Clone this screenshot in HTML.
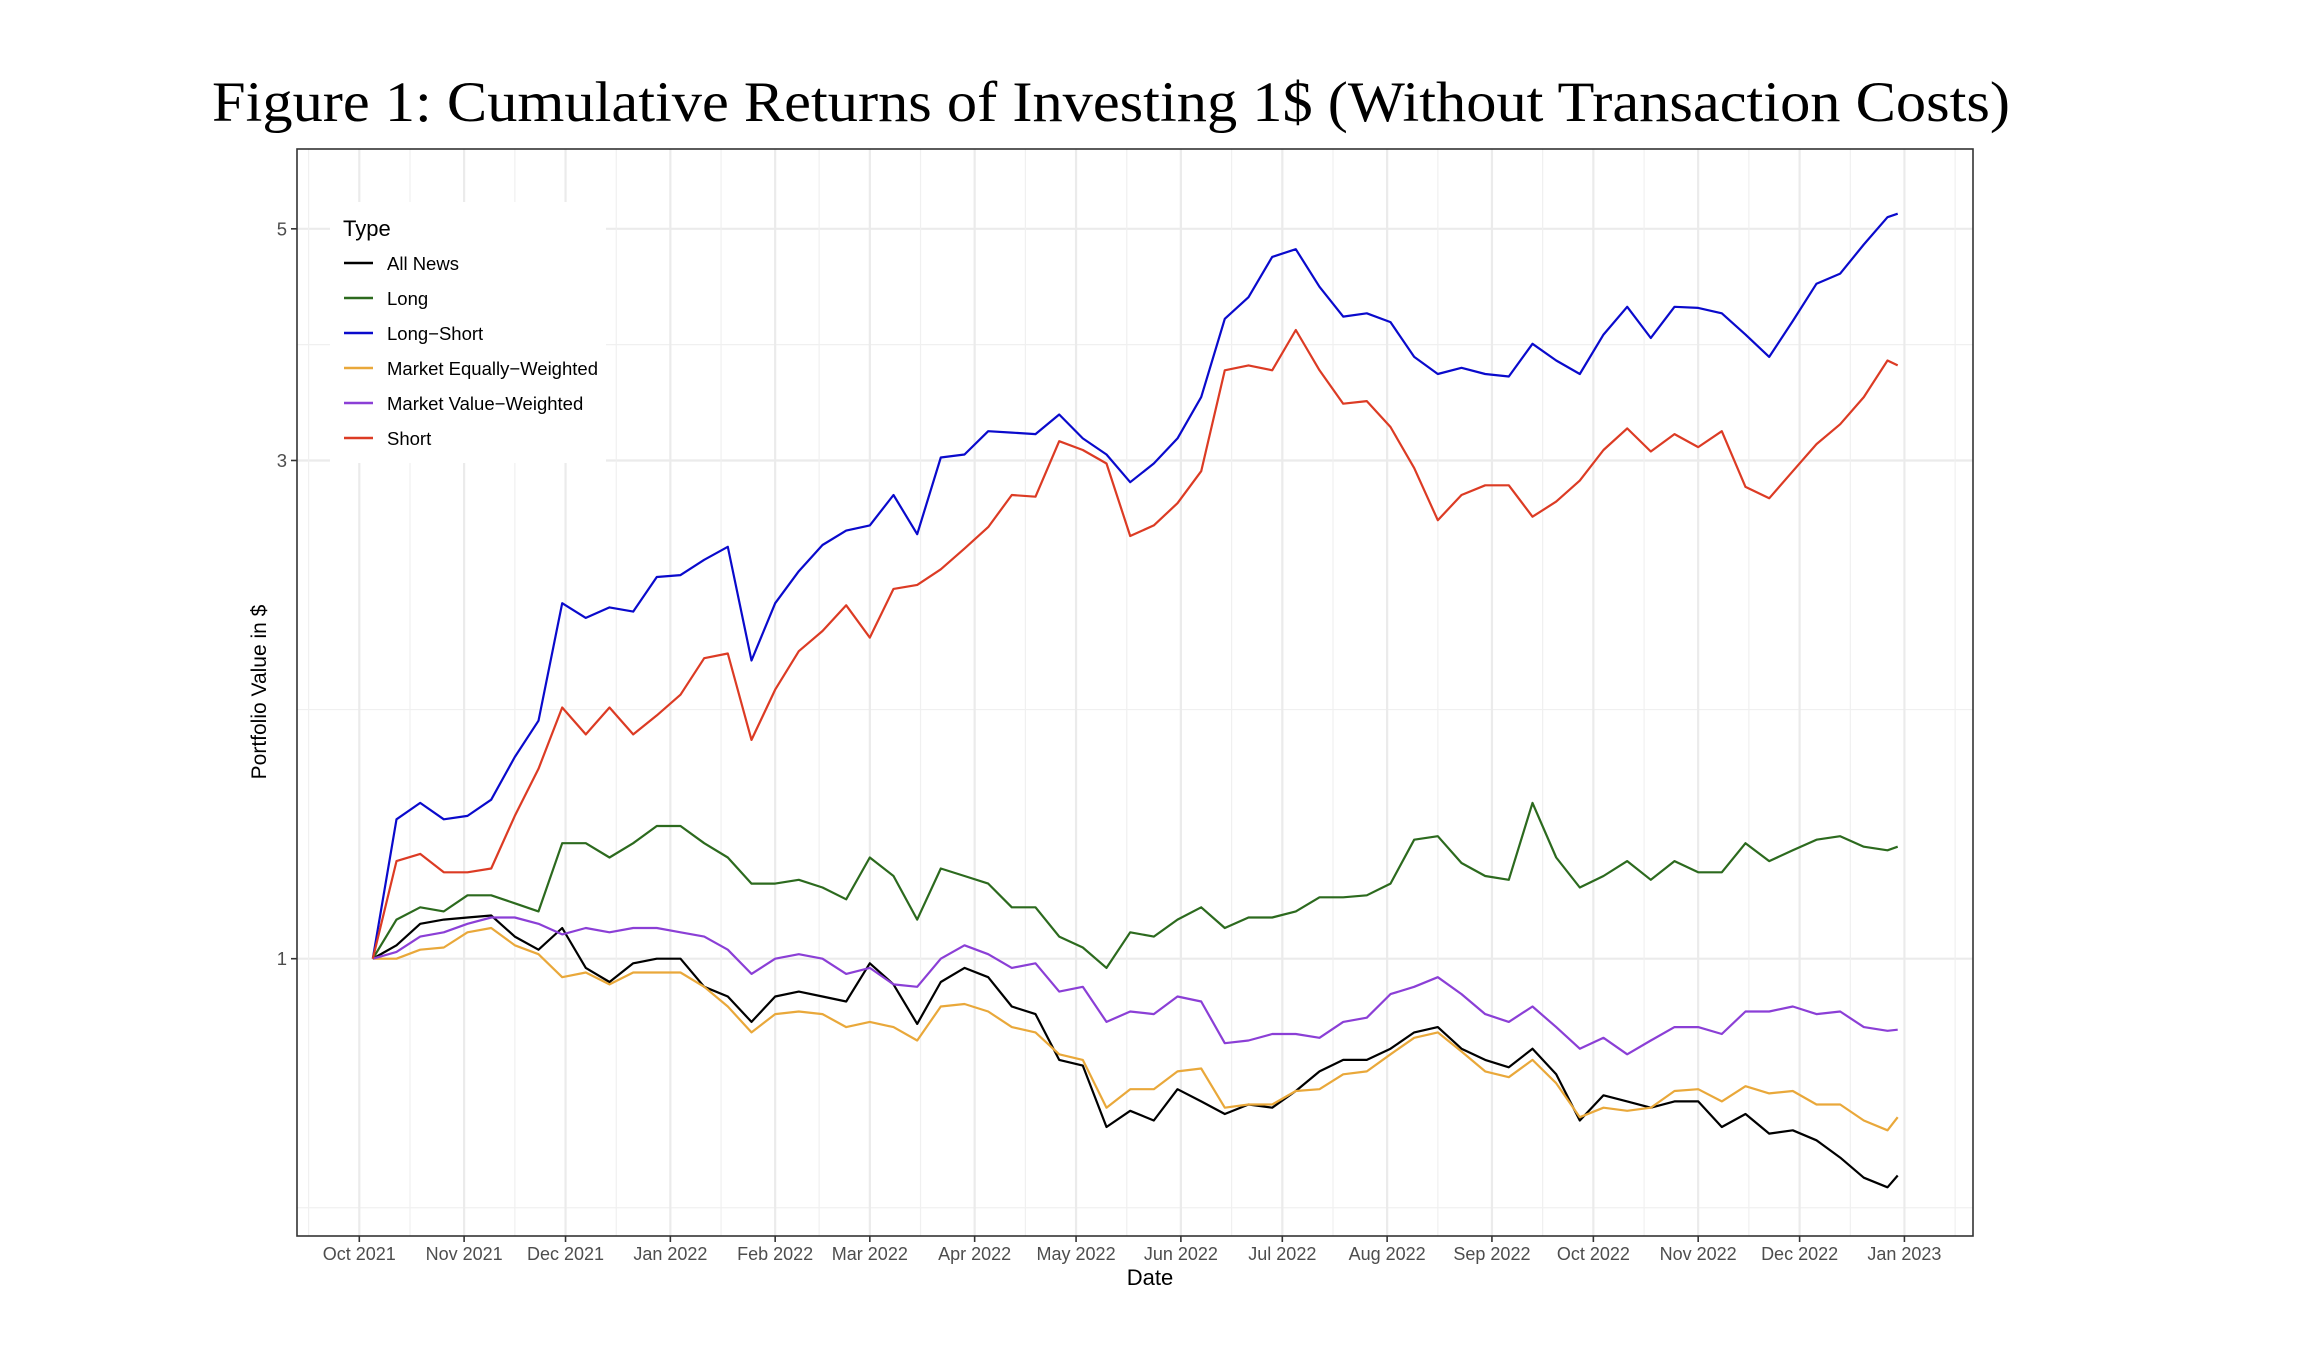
<!DOCTYPE html>
<html>
<head>
<meta charset="utf-8">
<style>
  html, body { margin: 0; padding: 0; background: #ffffff; }
  svg { display: block; }
  text { font-family: "Liberation Sans", sans-serif; }
</style>
</head>
<body>
<svg id="chart" width="2320" height="1346" viewBox="0 0 2320 1346" xmlns="http://www.w3.org/2000/svg">
  <rect x="0" y="0" width="2320" height="1346" fill="#ffffff"/>
  <text x="212" y="121" font-size="57" textLength="1798" lengthAdjust="spacingAndGlyphs" style="font-family:'Liberation Serif', serif" fill="#000">Figure 1: Cumulative Returns of Investing 1$ (Without Transaction Costs)</text>
  <g id="grid"></g>
  <g id="series"></g>
  <rect x="297" y="149" width="1676" height="1087" fill="none" stroke="#333" stroke-width="1.6"/>
  <g id="axes"></g>
  <text x="1150" y="1285" font-size="22" text-anchor="middle" fill="#000">Date</text>
  <text transform="translate(266,692) rotate(-90)" font-size="21" text-anchor="middle" fill="#000">Portfolio Value in $</text>
  <g id="legend"></g>
</svg>
<script>
// ---- data ----
const dates = ["2021-10-05","2021-10-12","2021-10-19","2021-10-26","2021-11-02","2021-11-09","2021-11-16","2021-11-23","2021-11-30","2021-12-07","2021-12-14","2021-12-21","2021-12-28","2022-01-04","2022-01-11","2022-01-18","2022-01-25","2022-02-01","2022-02-08","2022-02-15","2022-02-22","2022-03-01","2022-03-08","2022-03-15","2022-03-22","2022-03-29","2022-04-05","2022-04-12","2022-04-19","2022-04-26","2022-05-03","2022-05-10","2022-05-17","2022-05-24","2022-05-31","2022-06-07","2022-06-14","2022-06-21","2022-06-28","2022-07-05","2022-07-12","2022-07-19","2022-07-26","2022-08-02","2022-08-09","2022-08-16","2022-08-23","2022-08-30","2022-09-06","2022-09-13","2022-09-20","2022-09-27","2022-10-04","2022-10-11","2022-10-18","2022-10-25","2022-11-01","2022-11-08","2022-11-15","2022-11-22","2022-11-29","2022-12-06","2022-12-13","2022-12-20","2022-12-27","2022-12-30"];
const allNews = [1.0,1.03,1.08,1.09,1.095,1.1,1.05,1.02,1.07,0.98,0.95,0.99,1.0,1.0,0.94,0.92,0.87,0.92,0.93,0.92,0.91,0.99,0.945,0.866,0.95,0.98,0.96,0.9,0.885,0.8,0.79,0.69,0.715,0.7,0.75,0.73,0.71,0.725,0.72,0.747,0.78,0.8,0.8,0.82,0.85,0.86,0.82,0.8,0.787,0.82,0.775,0.7,0.74,0.73,0.72,0.73,0.73,0.69,0.71,0.68,0.685,0.67,0.645,0.617,0.604,0.62];
const longOnly = [1.0,1.09,1.12,1.11,1.15,1.15,1.13,1.11,1.29,1.29,1.25,1.29,1.34,1.34,1.29,1.25,1.18,1.18,1.19,1.17,1.14,1.25,1.2,1.09,1.22,1.2,1.18,1.12,1.12,1.05,1.025,0.98,1.06,1.05,1.09,1.12,1.07,1.095,1.095,1.11,1.145,1.145,1.15,1.18,1.3,1.31,1.235,1.2,1.19,1.41,1.25,1.17,1.2,1.24,1.19,1.24,1.21,1.21,1.29,1.24,1.27,1.3,1.31,1.28,1.27,1.28];
const longShort = [1.0,1.36,1.41,1.36,1.37,1.42,1.56,1.69,2.19,2.12,2.17,2.15,2.32,2.33,2.41,2.48,1.93,2.19,2.35,2.49,2.57,2.6,2.78,2.55,3.02,3.04,3.2,3.19,3.18,3.32,3.15,3.04,2.86,2.98,3.15,3.45,4.1,4.3,4.7,4.78,4.4,4.12,4.15,4.07,3.77,3.63,3.68,3.63,3.61,3.88,3.74,3.63,3.96,4.21,3.93,4.21,4.2,4.15,3.96,3.77,4.08,4.43,4.53,4.83,5.13,5.17];
const marketEW = [1.0,1.0,1.02,1.025,1.06,1.07,1.03,1.01,0.96,0.97,0.945,0.97,0.97,0.97,0.94,0.9,0.85,0.885,0.89,0.885,0.86,0.87,0.86,0.835,0.9,0.905,0.89,0.86,0.85,0.81,0.8,0.72,0.75,0.75,0.78,0.785,0.72,0.725,0.725,0.747,0.75,0.775,0.78,0.81,0.84,0.85,0.815,0.78,0.77,0.8,0.76,0.705,0.72,0.715,0.72,0.747,0.75,0.73,0.755,0.743,0.747,0.725,0.725,0.7,0.685,0.705];
const marketVW = [1.0,1.015,1.05,1.06,1.08,1.095,1.095,1.08,1.055,1.07,1.06,1.07,1.07,1.06,1.05,1.02,0.967,1.0,1.01,1.0,0.967,0.98,0.945,0.94,1.0,1.03,1.01,0.98,0.99,0.93,0.94,0.87,0.89,0.885,0.92,0.91,0.83,0.835,0.847,0.847,0.84,0.87,0.878,0.925,0.94,0.96,0.925,0.885,0.87,0.9,0.86,0.82,0.84,0.81,0.835,0.86,0.86,0.847,0.89,0.89,0.9,0.885,0.89,0.86,0.853,0.855];
const shortOnly = [1.0,1.24,1.26,1.21,1.21,1.22,1.37,1.52,1.74,1.64,1.74,1.64,1.71,1.79,1.94,1.96,1.62,1.81,1.97,2.06,2.18,2.03,2.26,2.28,2.36,2.47,2.59,2.78,2.77,3.13,3.07,2.98,2.54,2.6,2.73,2.93,3.66,3.7,3.66,4.0,3.66,3.4,3.42,3.23,2.95,2.63,2.78,2.84,2.84,2.65,2.74,2.87,3.07,3.22,3.06,3.18,3.09,3.2,2.83,2.76,2.93,3.11,3.25,3.45,3.74,3.7];
const seriesNames = ["All News","Long","Long\u2212Short","Market Equally\u2212Weighted","Market Value\u2212Weighted","Short"];
const xTickLabels = ["Oct 2021","Nov 2021","Dec 2021","Jan 2022","Feb 2022","Mar 2022","Apr 2022","May 2022","Jun 2022","Jul 2022","Aug 2022","Sep 2022","Oct 2022","Nov 2022","Dec 2022","Jan 2023"];
const xTickDates = ["2021-10-01","2021-11-01","2021-12-01","2022-01-01","2022-02-01","2022-03-01","2022-04-01","2022-05-01","2022-06-01","2022-07-01","2022-08-01","2022-09-01","2022-10-01","2022-11-01","2022-12-01","2023-01-01"];
const yTickValues = [1, 3, 5];
const yMinorValues = [0.5774, 1.7321, 3.873];

// ---- scales ----
const NS = "http://www.w3.org/2000/svg";
const DAY = 86400000;
const x0Date = Date.UTC(2021, 9, 1);
function xScale(d) {
  const t = Date.parse(d + "T00:00:00Z");
  return 359.3 + (t - x0Date) / DAY * 3.381;
}
function yScale(v) { return 958.7 - 453.5 * Math.log(v); }
const PL = 297, PR = 1973, PT = 149, PB = 1236;

function mk(tag, attrs, parent) {
  const el = document.createElementNS(NS, tag);
  for (const k in attrs) el.setAttribute(k, attrs[k]);
  parent.appendChild(el);
  return el;
}

// ---- grid ----
const grid = document.getElementById("grid");
for (const v of yMinorValues) {
  const el = mk("line", {x1: PL, x2: PR, y1: yScale(v), y2: yScale(v), stroke: "#f0f0f0", "stroke-width": 1.2}, grid);
  
  
}
for (const v of yTickValues) {
  const el = mk("line", {x1: PL, x2: PR, y1: yScale(v), y2: yScale(v), stroke: "#ebebeb", "stroke-width": 2.2}, grid);
  
  
}
const minorDates = ["2021-09-16","2021-10-16","2021-11-16","2021-12-16","2022-01-16","2022-02-14","2022-03-16","2022-04-16","2022-05-16","2022-06-16","2022-07-16","2022-08-16","2022-09-16","2022-10-16","2022-11-16","2022-12-16","2023-01-16"];
for (const d of minorDates) {
  const x = xScale(d);
  const el = mk("line", {x1: x, x2: x, y1: PT, y2: PB, stroke: "#f0f0f0", "stroke-width": 1.2}, grid);
  
  
}
for (const d of xTickDates) {
  const x = xScale(d);
  const el = mk("line", {x1: x, x2: x, y1: PT, y2: PB, stroke: "#ebebeb", "stroke-width": 2.2}, grid);
  
  
}

// ---- series ----
const seriesGroup = document.getElementById("series");
const allSeries = [allNews, longOnly, longShort, marketEW, marketVW, shortOnly];
const colors = ["#000000", "#2c6a1e", "#0a0acc", "#e9a83a", "#8b3fd6", "#dc3b24"];
const seriesKeys = ["all-news", "long", "long-short", "market-equally-weighted", "market-value-weighted", "short"];
const drawOrder = [0, 1, 2, 3, 4, 5];
for (const s of drawOrder) {
  const vals = allSeries[s];
  let dstr = "";
  for (let i = 0; i < vals.length; i++) {
    dstr += (i ? "L" : "M") + xScale(dates[i]).toFixed(1) + "," + yScale(vals[i]).toFixed(1);
  }
  const p = mk("path", {d: dstr, fill: "none", stroke: colors[s], "stroke-width": 2.2, "stroke-linejoin": "round"}, seriesGroup);
  
  
}

// ---- axes ----
const axes = document.getElementById("axes");
for (const v of yTickValues) {
  const y = yScale(v);
  const t = mk("line", {x1: PL - 6, x2: PL, y1: y, y2: y, stroke: "#333", "stroke-width": 1.6}, axes);
  
  
  const lb = mk("text", {x: PL - 10, y: y + 6.5, "font-size": 18.5, "text-anchor": "end", fill: "#4d4d4d"}, axes);
  lb.textContent = String(v);
  
  
}
for (let i = 0; i < xTickDates.length; i++) {
  const x = xScale(xTickDates[i]);
  const t = mk("line", {x1: x, x2: x, y1: PB, y2: PB + 6, stroke: "#333", "stroke-width": 1.6}, axes);
  
  
  const lb = mk("text", {x: x, y: 1260, "font-size": 18, "text-anchor": "middle", fill: "#4d4d4d"}, axes);
  lb.textContent = xTickLabels[i];
  
  
}

// ---- legend ----
const legend = document.getElementById("legend");
const bg = mk("rect", {x: 330, y: 202, width: 276, height: 261, fill: "#ffffff"}, legend);


const lt = mk("text", {x: 343, y: 236, "font-size": 22, fill: "#000"}, legend);
lt.textContent = "Type";


for (let s = 0; s < seriesNames.length; s++) {
  const y = 263 + s * 35;
  const g = mk("g", {}, legend);
  
  
  const k = mk("line", {x1: 344, x2: 373, y1: y, y2: y, stroke: colors[s], "stroke-width": 2.6}, g);
  
  
  const tx = mk("text", {x: 387, y: y + 7, "font-size": 18.5, fill: "#000"}, g);
  tx.textContent = seriesNames[s];
  
  
}
</script>
</body>
</html>
